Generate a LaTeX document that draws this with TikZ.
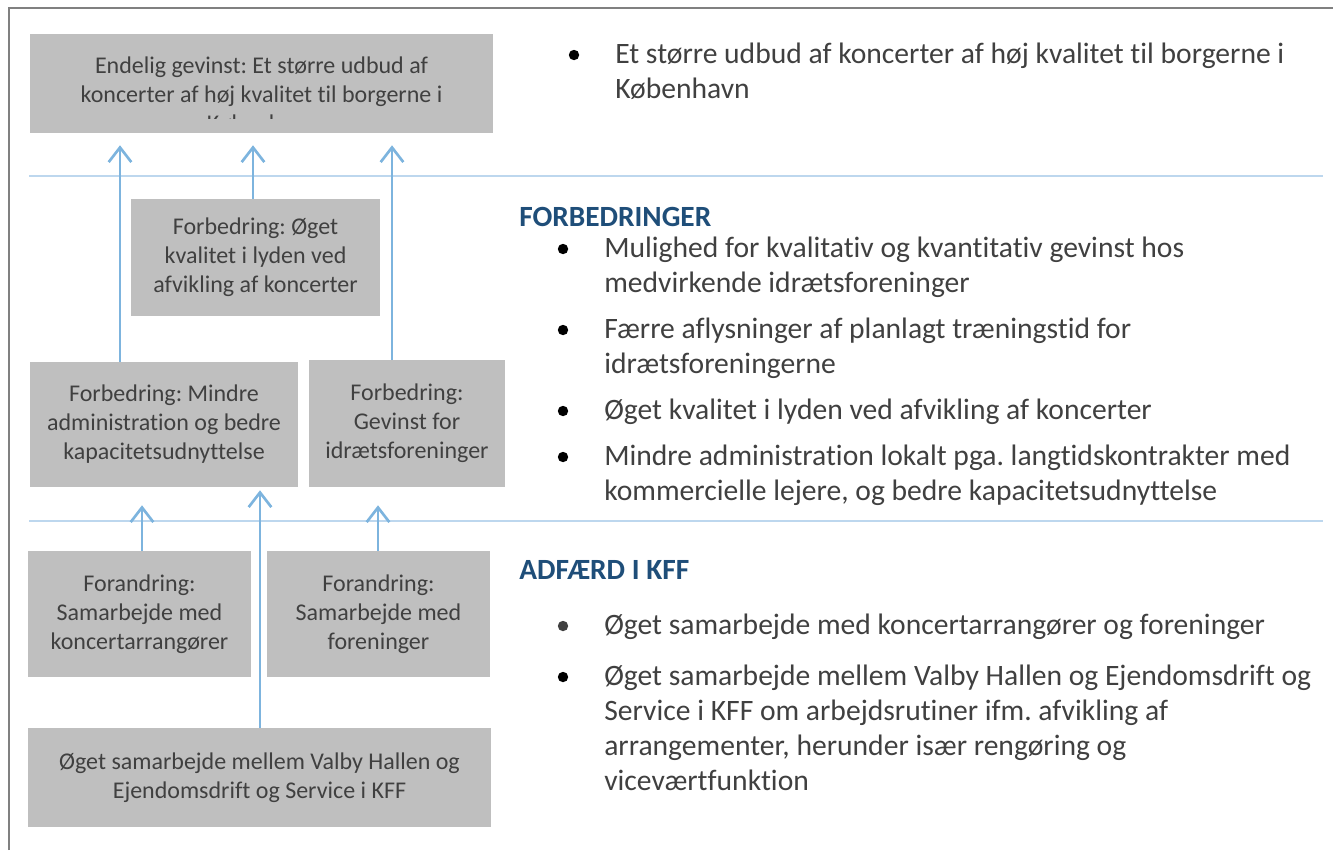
\documentclass[tikz,border=0pt]{standalone}
\usepackage{fontspec}
\setmainfont{Carlito}[Ligatures=NoCommon]
\frenchspacing
\usetikzlibrary{arrows.meta}
\definecolor{boxgray}{RGB}{191,191,191}
\definecolor{txtgray}{RGB}{64,64,64}
\definecolor{arrowblue}{RGB}{125,180,222}
\definecolor{lineblue}{RGB}{189,215,238}
\definecolor{headblue}{RGB}{31,78,121}
\definecolor{framegray}{RGB}{128,128,128}

\begin{document}
\begin{tikzpicture}[x=0.75pt, y=-0.75pt,
  box/.style={fill=boxgray, text=txtgray, align=center, inner sep=0pt, font=\fontsize{18}{21.75}\selectfont},
  arr/.style={draw=arrowblue, line width=2pt, -{Straight Barb[length=11pt,width=17pt]}},
  sep/.style={draw=lineblue, line width=1.5pt},
  item/.style={anchor=base west, align=left, inner sep=0pt, text=txtgray, font=\fontsize{22.2}{26.25}\selectfont},
  head/.style={anchor=base west, inner sep=0pt, text=headblue, font=\fontsize{22}{26}\selectfont\bfseries}]
\useasboundingbox (0,0) rectangle (1333,850);
% frame and separators
\draw[framegray, line width=1.5pt] (9,850) -- (9,8) -- (1333,8);
\draw[sep] (29,176) -- (1323,176);
\draw[sep] (29,521) -- (1323,521);

% left column (multi-line nodes sit on their last baseline)
\node[box, minimum width=347.25pt, minimum height=74.25pt] (endelig) at (261.5,83.5) {};
\begin{scope}
  \clip (30,34) rectangle (493,118);
  \node[box, fill=none, anchor=base] (endeligtxt) at (261.5,131) {Endelig gevinst: Et større udbud af\\koncerter af høj kvalitet til borgerne i\\København};
\end{scope}
\node[box, minimum width=186.75pt, minimum height=87.75pt] (lyd) at (255.5,257.5) {Forbedring: Øget\\kvalitet i lyden ved\\afvikling af koncerter};
\node[box, minimum width=201pt, minimum height=93.75pt] (admin) at (164,424.5) {Forbedring: Mindre\\administration og bedre\\kapacitetsudnyttelse};
\node[box, minimum width=147pt, minimum height=95.25pt] (idraet) at (407,423.5) {Forbedring:\\Gevinst for\\idrætsforeninger};
\node[box, minimum width=167.25pt, minimum height=94.5pt] (koncert) at (139.5,614) {Forandring:\\Samarbejde med\\koncertarrangører};
\node[box, minimum width=167.25pt, minimum height=94.5pt] (foren) at (378.5,614) {Forandring:\\Samarbejde med\\foreninger};
\node[box, minimum width=347.25pt, minimum height=74.25pt] (valby) at (259.5,777.5) {Øget samarbejde mellem Valby Hallen og\\Ejendomsdrift og Service i KFF};

% arrows
\coordinate (x1) at (120,0);
\coordinate (x2) at (253,0);
\coordinate (x3) at (392,0);
\coordinate (x4) at (142,0);
\coordinate (x5) at (260,0);
\coordinate (x6) at (378,0);
\draw[arr, shorten >=9pt] (admin.north -| x1) -- (endelig.south -| x1);
\draw[arr, shorten >=9pt] (lyd.north -| x2) -- (endelig.south -| x2);
\draw[arr, shorten >=9pt] (idraet.north -| x3) -- (endelig.south -| x3);
\draw[arr, shorten >=13.5pt] (koncert.north -| x4) -- (admin.south -| x4);
\draw[arr, shorten >=2.25pt] (valby.north -| x5) -- (admin.south -| x5);
\draw[arr, shorten >=13.5pt] (foren.north -| x6) -- (idraet.south -| x6);

% right column
\fill (574,55) circle (3.9pt);
\node[item] (res) at (615,98) {Et større udbud af koncerter af høj kvalitet til borgerne i\\København};

\node[head] (forb) at (519,226) {FORBEDRINGER};
\fill (563,249) circle (3.9pt);
\node[item] (f1) at (604,292) {Mulighed for kvalitativ og kvantitativ gevinst hos\\medvirkende idrætsforeninger};
\fill (563,330) circle (3.9pt);
\node[item] (f2) at (604,373) {Færre aflysninger af planlagt træningstid for\\idrætsforeningerne};
\fill (563,411) circle (3.9pt);
\node[item] (f3) at (604,419) {Øget kvalitet i lyden ved afvikling af koncerter};
\fill (563,457) circle (3.9pt);
\node[item] (f4) at (604,500) {Mindre administration lokalt pga. langtidskontrakter med\\kommercielle lejere, og bedre kapacitetsudnyttelse};

\node[head] (adf) at (519,579) {ADFÆRD I KFF};
\fill[txtgray] (563,626) circle (3.9pt);
\node[item] (a1) at (604,634) {Øget samarbejde med koncertarrangører og foreninger};
\fill (563,677) circle (3.9pt);
\node[item] (a2) at (604,790) {Øget samarbejde mellem Valby Hallen og Ejendomsdrift og\\Service i KFF om arbejdsrutiner ifm. afvikling af\\arrangementer, herunder især rengøring og\\viceværtfunktion};
\end{tikzpicture}
\end{document}
